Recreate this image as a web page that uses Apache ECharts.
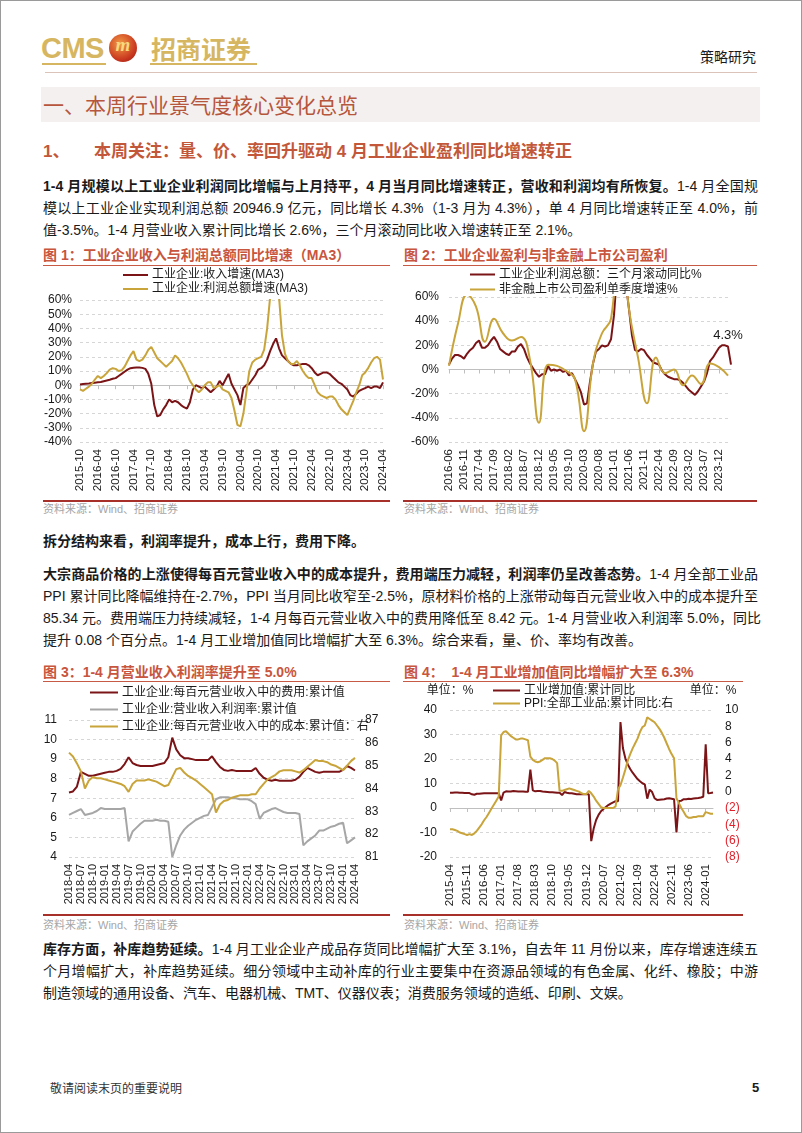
<!DOCTYPE html>
<html><head><meta charset="utf-8">
<script src="https://cdn.jsdelivr.net/npm/echarts/dist/echarts.min.js"></script>
<style>
html,body{margin:0;padding:0;background:#fff;}
#page{position:relative;width:802px;height:1133px;overflow:hidden;font-family:"Liberation Sans","Noto Sans CJK SC",sans-serif;color:#1a1a1a;background:#fff;}
.abs{position:absolute;}
.ln{position:absolute;left:43px;width:715px;height:22px;line-height:22px;font-size:14px;white-space:nowrap;}
.j{text-align:justify;text-align-last:justify;}
b{font-weight:700;}
.ct{position:absolute;font-size:14px;font-weight:700;color:#c8553d;height:20px;line-height:20px;white-space:nowrap;}
.ul{position:absolute;height:1px;background:#c65a45;}
.bl{position:absolute;height:2px;background:#a8302a;}
.src{position:absolute;font-size:11px;color:#a6a6a6;white-space:nowrap;line-height:14px;}
.chart{position:absolute;}
#frame{position:absolute;left:0;top:0;width:802px;height:1133px;box-sizing:border-box;border:1px solid #9a9a9a;pointer-events:none;z-index:10;}
</style></head>
<body>
<div id="page">
  <!-- header -->
  <div class="abs" style="left:41px;top:32px;font:bold 29px 'Liberation Sans';color:#d6b661;line-height:32px;letter-spacing:-0.5px;">CMS</div>
  <div class="abs" style="left:42px;top:63px;width:64px;height:2px;background:#d6b661"></div>
  <div class="abs" style="left:109px;top:34px;width:28px;height:28px;border-radius:50%;background:radial-gradient(circle at 40% 35%,#f39a45,#c8361e 65%,#8a1a10);"></div>
  <div class="abs" style="left:109px;top:34px;width:28px;height:28px;line-height:27px;text-align:center;font:italic bold 19px 'Liberation Serif';color:#f6d97c;">m</div>
  <div class="abs" style="left:151px;top:33px;font:bold 25px 'Noto Sans CJK SC';color:#d6b661;line-height:30px;">招商证券</div>
  <div class="abs" style="left:150px;top:63px;width:107px;height:2px;background:#d6b661"></div>
  <div class="abs" style="left:700px;top:46px;font-size:14px;line-height:20px;color:#1a1a1a;font-family:'Noto Sans CJK SC';">策略研究</div>
  <div class="abs" style="left:45px;top:72px;width:712px;height:1px;background:#dcc3ba"></div>

  <div class="abs" style="left:41px;top:87px;width:719px;height:35px;background:#f4f0ef"></div>
  <div class="abs" style="left:43px;top:89px;font-size:21px;line-height:30px;color:#b6563d;font-family:'Noto Sans CJK SC';">一、本周行业景气度核心变化总览</div>

  <div class="abs" style="left:43px;top:141px;font-size:17px;line-height:22px;font-weight:700;color:#c2573a;white-space:nowrap;">1、</div>
  <div class="abs" style="left:94px;top:141px;font-size:17px;line-height:22px;font-weight:700;color:#c2573a;white-space:nowrap;">本周关注：量、价、率回升驱动 4 月工业企业盈利同比增速转正</div>

  <!-- paragraph 1 -->
  <div class="ln j" style="top:175px;"><b>1-4 月规模以上工业企业利润同比增幅与上月持平，4 月当月同比增速转正，营收和利润均有所恢复。</b>1-4 月全国规</div>
  <div class="ln j" style="top:197px;">模以上工业企业实现利润总额 20946.9 亿元，同比增长 4.3%（1-3 月为 4.3%），单 4 月同比增速转正至 4.0%，前</div>
  <div class="ln" style="top:219px;">值-3.5%。1-4 月营业收入累计同比增长 2.6%，三个月滚动同比收入增速转正至 2.1%。</div>

  <!-- chart titles row 1 -->
  <div class="ct" style="left:43px;top:245px;">图 1：工业企业收入与利润总额同比增速（MA3）</div>
  <div class="ul" style="left:43px;top:265px;width:347px;"></div>
  <div class="ct" style="left:404px;top:245px;">图 2：工业企业盈利与非金融上市公司盈利</div>
  <div class="ul" style="left:403px;top:265px;width:354px;"></div>

  <div id="c1" class="chart" style="left:38px;top:267px;width:356px;height:233px;"></div>
  <div id="c2" class="chart" style="left:403px;top:267px;width:357px;height:233px;"></div>

  <div class="bl" style="left:43px;top:500px;width:347px;"></div>
  <div class="bl" style="left:403px;top:500px;width:354px;"></div>
  <div class="src" style="left:43px;top:502px;">资料来源：Wind、招商证券</div>
  <div class="src" style="left:404px;top:502px;">资料来源：Wind、招商证券</div>

  <!-- paragraph 2/3 -->
  <div class="ln" style="top:530px;"><b>拆分结构来看，利润率提升，成本上行，费用下降。</b></div>
  <div class="ln j" style="top:563px;"><b>大宗商品价格的上涨使得每百元营业收入中的成本提升，费用端压力减轻，利润率仍呈改善态势。</b>1-4 月全部工业品</div>
  <div class="ln j" style="top:585px;">PPI 累计同比降幅维持在-2.7%，PPI 当月同比收窄至-2.5%，原材料价格的上涨带动每百元营业收入中的成本提升至</div>
  <div class="ln j" style="top:607px;">85.34 元。费用端压力持续减轻，1-4 月每百元营业收入中的费用降低至 8.42 元。1-4 月营业收入利润率 5.0%，同比</div>
  <div class="ln" style="top:629px;">提升 0.08 个百分点。1-4 月工业增加值同比增幅扩大至 6.3%。综合来看，量、价、率均有改善。</div>

  <!-- chart titles row 2 -->
  <div class="ct" style="left:43px;top:662px;">图 3：1-4 月营业收入利润率提升至 5.0%</div>
  <div class="ul" style="left:43px;top:681px;width:347px;"></div>
  <div class="ct" style="left:404px;top:662px;">图 4：&nbsp;&nbsp;1-4 月工业增加值同比增幅扩大至 6.3%</div>
  <div class="ul" style="left:403px;top:681px;width:340px;"></div>

  <div id="c3" class="chart" style="left:38px;top:683px;width:356px;height:231px;"></div>
  <div id="c4" class="chart" style="left:403px;top:683px;width:357px;height:231px;"></div>

  <div class="bl" style="left:43px;top:914px;width:347px;"></div>
  <div class="bl" style="left:403px;top:914px;width:340px;"></div>
  <div class="src" style="left:43px;top:918px;">资料来源：Wind、招商证券</div>
  <div class="src" style="left:404px;top:918px;">资料来源：Wind、招商证券</div>

  <!-- paragraph 4 -->
  <div class="ln j" style="top:938px;"><b>库存方面，补库趋势延续。</b>1-4 月工业企业产成品存货同比增幅扩大至 3.1%，自去年 11 月份以来，库存增速连续五</div>
  <div class="ln j" style="top:960px;">个月增幅扩大，补库趋势延续。细分领域中主动补库的行业主要集中在资源品领域的有色金属、化纤、橡胶；中游</div>
  <div class="ln" style="top:982px;">制造领域的通用设备、汽车、电器机械、TMT、仪器仪表；消费服务领域的造纸、印刷、文娱。</div>

  <!-- footer -->
  <div class="abs" style="left:50px;top:1080px;font-size:12px;line-height:16px;color:#333;font-family:'Noto Sans CJK SC';">敬请阅读末页的重要说明</div>
  <div class="abs" style="left:752px;top:1080px;font-size:13px;line-height:16px;font-weight:700;color:#1a1a1a;">5</div>
  <div id="frame"></div>
</div>

<script>
// ---------- tick labels (monthly categories) ----------
function months(y, m, n) {
  const a = [];
  for (let i = 0; i < n; i++) {
    const mm = (m - 1 + i) % 12 + 1, yy = y + Math.floor((m - 1 + i) / 12);
    a.push(yy + '-' + (mm < 10 ? '0' : '') + mm);
  }
  return a;
}
const cats1 = months(2015, 10, 103);   // 2015-10 .. 2024-04
const cats2 = months(2016, 6, 95);     // 2016-06 .. 2024-04
const cats3 = months(2018, 4, 73);     // 2018-04 .. 2024-04
const cats4 = months(2015, 4, 109);    // 2015-04 .. 2024-04

// ---------- Chart 1 data (%) ----------
const rev1 = [0.5,0.8,1.0,
  1.2,1.5,1.8,2.0,2.2,2.8,3.3,3.8,4.5,5.0,6.5,8.0,
  9.5,11.0,12.0,12.3,12.5,12.4,12.2,11.5,8.0,1.0,-14,-22,
  -21,-17,-14,-10,-12,-11,-12,-14,-15.5,-16.5,-12,-3,
  0,-1,-2,-1,-3,-5,-3,-1,3,0,4,8,
  1,-3,-7,-14,-2,0,1,4,7,11,12,14,
  18,24,29,33,26,21,19,17,15,14,14,14.5,
  15,15,14,12,9,7,8,9,9,8,6,4,
  2,1,-1,-3,-7,-8,-6,-4,-3,-2,-1,-2,
  -1,-1,-2,2];
const prof1 = [-3,-4,-2.5,
  -1,1,4,6.5,5,6.5,8.5,11,12,11.5,10,10.5,
  13,17,21,24,18,17,18,21,25,27,23,19,
  17,15,13,15,17,21,19,16,12,8,3,0,
  -3,-5,-3,0,2,2,-2,-1,0,-3,-4,-5,
  -9,-18,-28,-29,-20,-5,10,16,18,19,20,25,
  40,62,85,90,62,35,22,17,15,15,17,14,
  10,7,5,5,0,-5,-7,-8,-9,-8,-8,-10,
  -14,-17,-19,-21,-16,-11,-5,0,7,9,12,16,
  19,20,18,4];

// ---------- Chart 2 data (%) ----------
const prof2 = [4,9,12,12,11,9,13,
  16,18,22,24,18,18,20,24,27,23,17,15,
  13,12,15,15,19,21,17,10,5,1,-3,-6,
  -4,-4,3,-1,0,-1,0,-2,-1,-5,-3,-8,
  -13,-19,-29,-28,-10,5,15,17,20,19,20,25,
  45,80,100,90,70,50,28,16,15,17,16,12,
  9,6,5,4,-1,-4,-6,-7,-8,-8,-9,-11,
  -14,-17,-19,-21,-18,-14,-10,-3,7,10,14,18,
  20,20,19,4];
// quarterly (2016-06 .. 2024-03, every 3rd month)
const listedQ2 = [3,38,62,52,23,42,30,24,27,8,-44,4,3,-1,-8,-51,
  5,30,42,120,50,10,-28,10,-3,0,-13,-5,-12,5,2,-5];
const note2 = '4.3%';

// ---------- Chart 3 data ----------
const fee3 = [7.3,7.35,7.6,8.35,8.25,8.15,8.15,8.2,8.25,8.3,
  8.35,8.35,8.4,8.5,8.75,9.1,8.8,8.7,8.65,8.65,
  8.65,8.65,8.7,8.75,8.8,9.1,10.1,9.5,9.2,9.05,
  9.05,9.0,8.95,8.95,8.95,8.95,9.15,8.85,8.6,8.45,
  8.4,8.45,8.4,8.4,8.4,8.4,8.4,8.55,8.25,8.05,
  7.95,7.9,7.95,7.9,7.9,7.9,7.9,7.95,8.1,8.35,
  8.55,8.45,8.35,8.3,8.35,8.35,8.35,8.35,8.35,8.45,
  8.65,8.55,8.42];
const margin3 = [6.15,6.25,6.35,6.45,6.15,6.2,6.25,6.35,6.5,6.45,
  6.45,6.45,6.45,6.45,6.5,4.8,5.3,5.5,5.7,5.85,
  5.85,5.85,5.9,5.85,5.85,5.8,4.0,4.6,5.1,5.4,
  5.6,5.75,5.9,6.0,6.1,6.15,6.55,6.95,7.05,7.05,
  7.05,7.0,7.0,6.95,6.95,6.95,6.85,6.7,5.95,6.25,
  6.35,6.45,6.5,6.4,6.3,6.25,6.25,6.25,6.2,4.6,
  4.8,4.95,5.1,5.35,5.35,5.45,5.55,5.6,5.7,5.75,
  4.7,4.85,5.0];
const cost3 = [85.57,85.4,85.1,84.75,84.0,84.35,84.5,84.45,84.45,84.4,
  84.35,84.3,84.25,84.2,84.1,83.85,84.2,84.35,84.35,84.35,
  84.4,84.35,84.3,84.2,84.1,84.15,84.5,84.85,84.9,84.7,
  84.55,84.45,84.35,84.2,84.05,83.9,83.75,82.95,83.3,83.45,
  83.5,83.6,83.65,83.7,83.7,83.7,83.75,83.75,84.0,84.2,
  84.4,84.5,84.6,84.75,84.8,84.8,84.8,84.75,84.7,84.8,
  84.95,85.1,85.25,85.2,85.2,85.15,85.05,85.0,84.9,84.8,
  85.0,85.2,85.34];

// ---------- Chart 4 data ----------
const ip4 = [6.2,6.2,6.3,6.3,6.2,6.2,6.1,6.1,6.1,
  5.6,5.4,5.8,5.8,5.9,6.0,6.0,6.0,6.0,6.0,6.0,6.0,
  3.1,6.3,6.8,6.7,6.7,6.9,6.8,6.7,6.7,6.7,6.6,6.6,
  15.7,7.2,6.8,6.9,6.9,6.7,6.6,6.5,6.4,6.4,6.3,6.2,
  6.2,5.3,6.5,6.2,6.0,6.0,5.8,5.6,5.6,5.6,5.6,5.7,
  5.6,-13.5,-8.4,-4.9,-2.8,-1.3,-0.4,0.4,1.2,1.8,2.3,2.8,
  2.8,35.1,24.5,20.3,17.8,15.9,14.4,13.1,11.8,10.9,10.1,9.6,
  3.8,7.5,6.5,4.0,3.3,3.4,3.5,3.6,3.9,4.0,3.8,3.6,
  -10,2.9,3.0,3.6,3.6,3.8,3.7,3.9,4.0,4.1,4.3,4.6,
  26,6.0,6.1,6.3];
const ppi4 = [-4.6,-4.6,-4.7,-4.8,-5.0,-5.1,-5.2,-5.3,-5.2,
  -5.3,-5.1,-4.8,-4.4,-4.0,-3.5,-3.1,-2.6,-2.1,-1.6,-1.1,-0.6,
  6.9,7.3,7.4,7.1,6.8,6.6,6.4,6.4,6.5,6.5,6.4,6.3,
  4.3,3.9,3.7,3.6,3.7,3.9,4.1,4.1,4.1,4.0,3.8,3.5,
  0.1,0.1,0.2,0.3,0.4,0.3,0.2,0.1,0.0,-0.2,-0.3,-0.3,
  0.1,-0.2,-0.6,-1.1,-1.5,-1.9,-2.0,-2.0,-2.0,-2.0,-2.0,-1.8,
  0.3,0.8,1.7,2.7,3.8,4.6,5.3,5.9,6.5,7.3,7.9,8.1,
  9.1,8.9,8.7,8.5,8.1,7.7,7.2,6.6,5.9,5.2,4.6,4.1,
  -0.8,-1.4,-2.0,-2.5,-3.0,-3.2,-3.2,-3.1,-3.1,-3.0,-3.0,-3.0,
  -2.5,-2.6,-2.7,-2.7];

// ---------- styling helpers ----------
const FONT = '"Liberation Sans","Noto Sans CJK SC",sans-serif';
const RED = '#7b1416', GOLD = '#c9a43b', GRAY = '#a6a6a6', TXT = '#1a1a1a';

function xBase(cats, interval, fs) {
  return {type:'category', data:cats, boundaryGap:false,
    axisLine:{show:false, onZero:false}, axisTick:{show:false}, splitLine:{show:false},
    axisLabel:{interval:interval, rotate:90, fontSize:fs, color:TXT, fontFamily:FONT, margin:7}};
}
function xZero(cats, interval) {
  return {type:'category', data:cats, boundaryGap:false, position:'bottom',
    axisLine:{show:true, onZero:true, lineStyle:{color:'#bfbfbf', width:1}},
    axisTick:{show:true, interval:interval, length:4, lineStyle:{color:'#bfbfbf'}},
    axisLabel:{show:false}, splitLine:{show:false}};
}
function yAx(min, max, interval, fmt, margin, extra) {
  return Object.assign({type:'value', min:min, max:max, interval:interval,
    axisLine:{show:false}, axisTick:{show:false},
    axisLabel:{formatter:fmt, fontSize:12, color:TXT, fontFamily:FONT, margin:margin},
    splitLine:{show:true, lineStyle:{type:[3,3], color:'#d6d6d6'}}}, extra || {});
}
function line(name, data, color, extra) {
  return Object.assign({type:'line', name:name, data:data, symbol:'none',
    lineStyle:{width:2, color:color}, itemStyle:{color:color}}, extra || {});
}
function legend(left, top, pitch, w) {
  return {orient:'vertical', left:left, top:top, padding:0, itemGap:0, itemWidth:w, itemHeight:2,
    icon:'rect',
    textStyle:{fontSize:12, lineHeight:pitch, color:TXT, fontFamily:FONT, padding:[0,0,0,-1]}};
}

// ---------- Chart 1 ----------
const c1 = echarts.init(document.getElementById('c1'));
c1.setOption({
  animation:false,
  grid:{left:42, right:11, top:33, bottom:58},
  legend:legend(85, 1, 14, 25),
  xAxis:[xBase(cats1, 5, 11.5), xZero(cats1, 5)],
  yAxis:[yAx(-40, 60, 10, '{value}%', 8)],
  series:[line('工业企业:收入增速(MA3)', rev1, RED), line('工业企业:利润总额增速(MA3)', prof1, GOLD)]
});

// ---------- Chart 2 ----------
const c2 = echarts.init(document.getElementById('c2'));
c2.setOption({
  animation:false,
  grid:{left:46, right:29, top:30, bottom:58},
  legend:legend(67, 0, 15, 25),
  xAxis:[xBase(cats2, 4, 11.5), xZero(cats2, 4)],
  yAxis:[yAx(-60, 60, 20, '{value}%', 10)],
  series:[
    line('工业企业利润总额：三个月滚动同比%', prof2, RED, {
      markPoint:{symbol:'rect', symbolSize:1, itemStyle:{color:'rgba(0,0,0,0)'},
        label:{show:true, position:'inside', formatter:note2, fontSize:13, color:TXT, fontFamily:FONT},
        data:[{coord:[cats2[cats2.length - 2], 28]}]}
    }),
    line('非金融上市公司盈利单季度增速%', listedQ2.map((v, k) => [cats2[k * 3], v]), GOLD,
      {smooth:0.45, connectNulls:true})
  ]
});

// ---------- Chart 3 ----------
const c3 = echarts.init(document.getElementById('c3'));
c3.setOption({
  animation:false,
  grid:{left:31, right:39, top:37, bottom:57},
  legend:legend(52, 1, 17, 28),
  xAxis:[xBase(cats3, 2, 11)],
  yAxis:[yAx(4, 11, 1, '{value}', 12),
         yAx(81, 87, 1, '{value}', 10, {position:'right', splitLine:{show:false}})],
  series:[
    line('工业企业:每百元营业收入中的费用:累计值', fee3, RED),
    line('工业企业:营业收入利润率:累计值', margin3, GRAY),
    line('工业企业:每百元营业收入中的成本:累计值：右', cost3, GOLD, {yAxisIndex:1})
  ]
});

// ---------- Chart 4 ----------
const c4 = echarts.init(document.getElementById('c4'));
const unitName = {fontSize:12, color:TXT, fontFamily:FONT, align:'center'};
c4.setOption({
  animation:false,
  grid:{left:47, right:47, top:27, bottom:57},
  legend:legend(90, 1, 13, 27),
  xAxis:[xBase(cats4, 6, 11.5), xZero(cats4, 6)],
  yAxis:[
    yAx(-20, 40, 10, '{value}', 13, {name:'单位：%', nameLocation:'end', nameGap:13, nameTextStyle:unitName}),
    yAx(-8, 10, 2, function (v) { return v < 0 ? '{n|(' + (-v) + ')}' : String(v); }, 12,
      {position:'right', splitLine:{show:false}, name:'单位：%', nameLocation:'end', nameGap:13,
       nameTextStyle:unitName})
  ],
  series:[
    line('工业增加值:累计同比', ip4, RED),
    line('PPI:全部工业品:累计同比:右', ppi4, GOLD, {yAxisIndex:1})
  ]
});
c4.setOption({yAxis:[{}, {axisLabel:{rich:{n:{color:'#e0202a', fontSize:12, fontFamily:FONT}}}}]});
</script>
</body></html>
